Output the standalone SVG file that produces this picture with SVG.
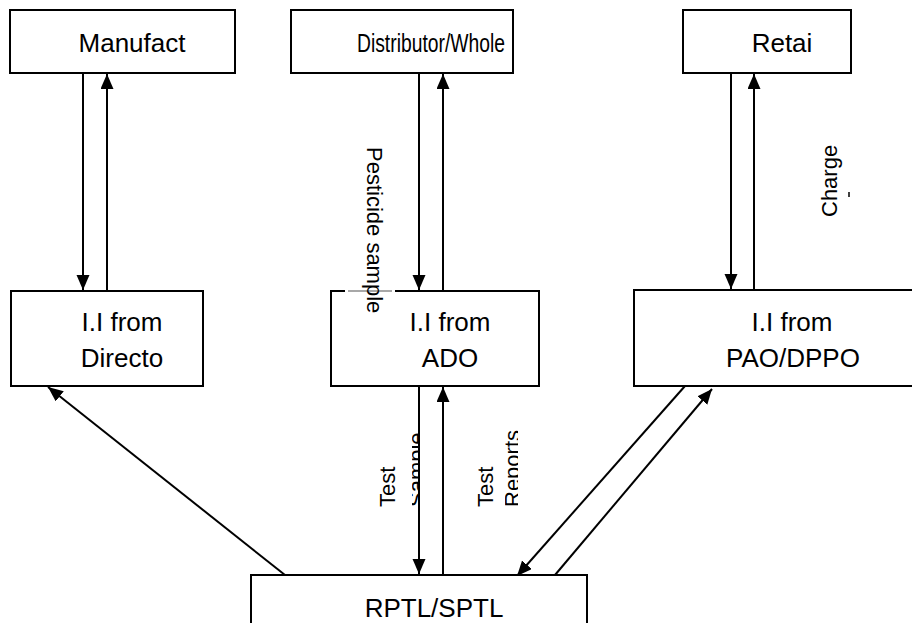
<svg xmlns="http://www.w3.org/2000/svg" width="912" height="623" viewBox="0 0 912 623">
<style>
.box{fill:#fff;stroke:#000;stroke-width:2}
.t{font-family:"Liberation Sans",Arial,sans-serif;font-size:26px;fill:#000}
.s{font-family:"Liberation Sans",Arial,sans-serif;font-size:22px;fill:#000}
.c{fill:none;stroke:#000;stroke-width:2}
.a{marker-end:url(#ah)}
</style>
<defs>
<marker id="ah" markerUnits="userSpaceOnUse" markerWidth="16" markerHeight="14" refX="15" refY="6.5" orient="auto">
<path d="M0,0 L15,6.5 L0,13 z" fill="#000"/>
</marker>
<clipPath id="clipS"><rect x="412" y="400" width="7" height="120"/></clipPath>
<clipPath id="clipR"><rect x="505" y="400" width="13" height="120"/></clipPath>
</defs>
<rect width="912" height="623" fill="#fff"/>
<g id="connectors">
<line class="c a" x1="83" y1="73" x2="83" y2="290"/>
<line class="c a" x1="107" y1="290" x2="107" y2="74"/>
<line class="c a" x1="419" y1="73" x2="419" y2="290"/>
<line class="c a" x1="443" y1="290" x2="443" y2="74"/>
<line class="c a" x1="731" y1="73" x2="731" y2="289"/>
<line class="c a" x1="754" y1="289" x2="754" y2="74"/>
<line class="c a" x1="419" y1="386" x2="419" y2="574"/>
<line class="c a" x1="443" y1="574" x2="443" y2="387"/>
<line class="c a" x1="285" y1="575" x2="48" y2="387"/>
<line class="c a" x1="685" y1="386" x2="517" y2="576"/>
<line class="c a" x1="555" y1="575" x2="712" y2="389"/>
</g>
<g id="manufact">
<rect class="box" x="10" y="10" width="225" height="63"/>
<text class="t" x="132" y="52" text-anchor="middle">Manufact</text>
</g>
<g id="distributor">
<rect class="box" x="291" y="10" width="222" height="63"/>
<text class="t" x="357" y="52" textLength="148" lengthAdjust="spacingAndGlyphs" style="font-size:25.5px">Distributor/Whole</text>
</g>
<g id="retai">
<rect class="box" x="683" y="10" width="168" height="63"/>
<text class="t" x="782" y="52" text-anchor="middle">Retai</text>
</g>
<g id="directo">
<rect class="box" x="11" y="291" width="192" height="95"/>
<text class="t" x="122" y="331" text-anchor="middle">I.I from</text>
<text class="t" x="122" y="367" text-anchor="middle">Directo</text>
</g>
<g id="ado">
<rect class="box" x="331" y="291" width="208" height="95"/>
<rect x="345" y="289" width="50" height="4" fill="#fff"/>
<line x1="348" y1="291" x2="392" y2="291" stroke="#a8a8a8" stroke-width="2"/>
<text class="t" x="450" y="331" text-anchor="middle">I.I from</text>
<text class="t" x="450" y="367" text-anchor="middle">ADO</text>
</g>
<g id="pao">
<rect class="box" x="634" y="290" width="290" height="96"/>
<text class="t" x="792" y="331" text-anchor="middle">I.I from</text>
<text class="t" x="793" y="367" text-anchor="middle">PAO/DPPO</text>
</g>
<g id="rptl">
<rect class="box" x="251" y="575" width="336" height="60"/>
<text class="t" x="434" y="617" text-anchor="middle">RPTL/SPTL</text>
</g>
<g id="labels">
<text class="s" transform="translate(367,147) rotate(90)">Pesticide sample</text>
<text class="s" transform="translate(837,217) rotate(-90)">Charge</text>
<line x1="849" y1="192" x2="849" y2="197" stroke="#000" stroke-width="1.5"/>
<text class="s" transform="translate(395,507) rotate(-90)">Test</text>
<g clip-path="url(#clipS)"><text class="s" transform="translate(424,507) rotate(-90)">Sample</text></g>
<text class="s" transform="translate(493,507) rotate(-90)">Test</text>
<g clip-path="url(#clipR)"><text class="s" transform="translate(520,507) rotate(-90)">Reports</text></g>
</g>
</svg>
